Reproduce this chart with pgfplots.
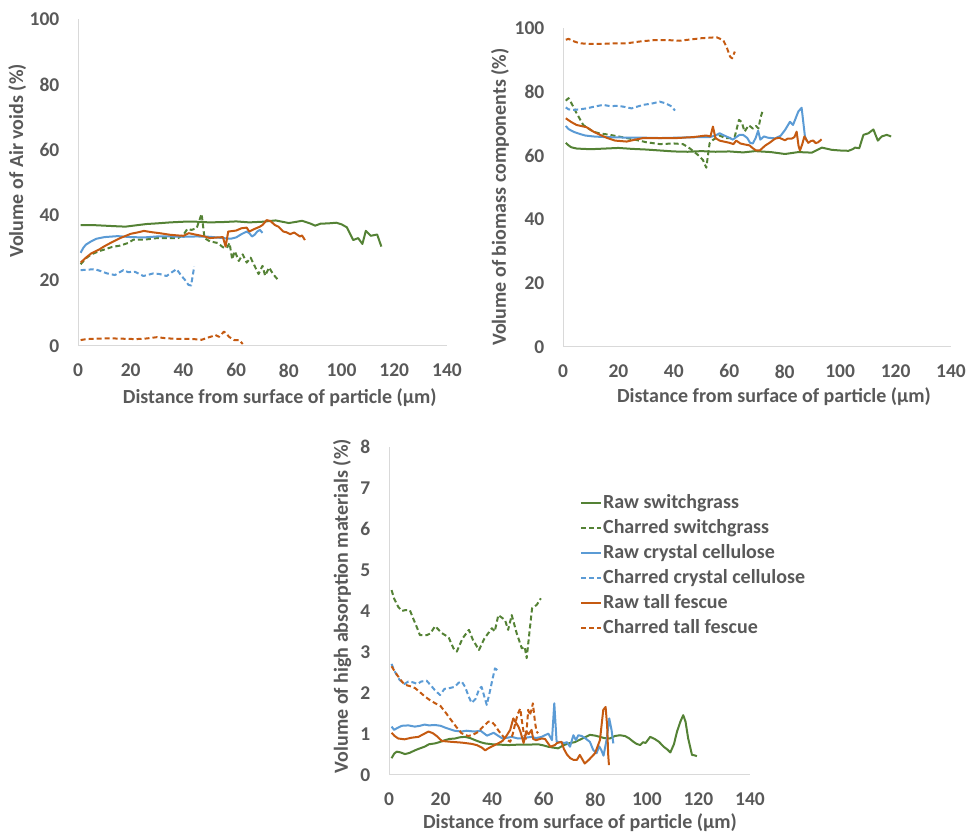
\documentclass[border=0pt]{standalone}
\usepackage{fontspec}
\setmainfont{Carlito}
\usepackage{pgfplots}
\pgfplotsset{compat=1.18}
\definecolor{cgreen}{HTML}{548235}
\definecolor{cblue}{HTML}{5B9BD5}
\definecolor{corange}{HTML}{C55A11}
\definecolor{ctext}{HTML}{595959}
\definecolor{caxis}{HTML}{D9D9D9}
\pgfplotsset{
  base/.style={
    scale only axis,
    xmin=0,xmax=140,
    xtick={0,20,...,140},
    axis lines=left,
    axis line style={-, draw=caxis, line width=1pt},
    tick style={draw=none},
    /pgf/number format/assume math mode=true,
    tick label style={font=\fontsize{19.5}{22}\selectfont\bfseries, text=ctext},
    label style={font=\fontsize{20}{24}\selectfont\bfseries, text=ctext},
    xticklabel style={yshift=-12pt},
    yticklabel style={xshift=-13pt},
    every axis plot/.append style={line width=2pt, line join=round},
  },
  rs/.style={cgreen, solid, line width=2pt},
  cs/.style={cgreen, dash pattern=on 5pt off 3pt, line width=2pt},
  rc/.style={cblue, solid, line width=2pt},
  cc/.style={cblue, dash pattern=on 5pt off 3pt, line width=2pt},
  rt/.style={corange, solid, line width=2pt},
  ct/.style={corange, dash pattern=on 5pt off 3pt, line width=2pt},
}
\begin{document}
\begin{tikzpicture}[x=1pt,y=1pt]
\path[use as bounding box] (0,0) rectangle (970,836);
% ---------- Air voids ----------
\begin{axis}[base, at={(78pt,490pt)}, anchor=south west, width=369pt, height=327pt,
  ymin=0, ymax=100, ytick={0,20,...,100},
  xlabel={Distance from surface of particle (µm)},
  ylabel={Volume of Air voids (\%)},
  xlabel style={at={(axis description cs:0.547,-0.159)}, anchor=center},
  ylabel style={at={(axis description cs:-0.165,0.566)}, anchor=center}]
\addplot[rs] coordinates {(1,37)(5,37)(10,36.8)(15,36.6)(18,36.5)(22,36.9)(26,37.3)(30,37.5)(35,37.8)(40,38)(45,38)(50,37.8)(55,37.9)(60,38.1)(65,37.8)(70,38)(75,38.4)(80,37.6)(83,38)(85,38.3)(88,37.5)(90,36.8)(92,37.4)(95,37.5)(98,37.7)(100,37.2)(102,36.3)(104.4,32.4)(106.3,33)(107.9,31.2)(109.2,35.2)(111.1,33.7)(113.5,34.1)(115.1,30.4)};
\addplot[cs] coordinates {(1,25)(3,26.8)(5,28)(8,29)(10,29.5)(13,30.3)(16,30.7)(19,31.5)(21,32.5)(25,32.5)(30,33)(35,33)(38,33)(40,34)(41.5,35.8)(43,35.5)(45,36)(46.9,40.4)(48,33)(50,32)(53,31.5)(55,30.2)(56.5,30)(57.5,31.5)(58.5,26.5)(59.5,29)(61,26)(62.5,28)(64,25.5)(65.5,27)(67,24.5)(68.5,22)(70,24.5)(71,21.5)(72.5,24)(74,22)(75.7,20.4)};
\addplot[rc] coordinates {(1,28.5)(2,30)(3,31)(5,32)(7,32.8)(10,33.3)(15,33.6)(20,33.3)(25,33.2)(30,33.5)(35,33.5)(40,33.4)(45,33.5)(50,33.4)(55,33)(58,32.8)(60,33.2)(62,34.2)(64,35)(65,34.5)(66,33.5)(67,34)(68,35)(69,35.5)(70,34.6)};
\addplot[cc] coordinates {(1,23.2)(3,23.3)(6.4,23.5)(9,22.8)(11,22.2)(14,21.7)(17.2,23.2)(19,22.6)(21.6,22.7)(24.8,21.4)(28.6,22.2)(31,22)(33.6,21.4)(35.5,22.5)(37.4,23.5)(39.3,21.4)(40.6,20.2)(41.9,18.7)(42.9,18.5)(44.1,24.3)};
\addplot[rt] coordinates {(1,25.5)(3,27)(5,28.3)(8,29.5)(10,30.5)(13,31.8)(16,33)(20,34.3)(23,34.8)(25,35.2)(28,34.8)(31,34.5)(35,34)(38,33.8)(40,33.7)(42,34.5)(45,34)(48,33.5)(50,33)(53,33.2)(55,33.3)(56,30.4)(57,35)(60,35.3)(62,36)(64,36.2)(65,35)(67,35.8)(69,36.5)(70,37)(71.6,38.5)(73,38.2)(74.7,37)(76,36.5)(77.9,35)(79,34.8)(80.5,34.2)(82,34.7)(84.2,33.5)(85,33.8)(86.1,32.4)};
\addplot[ct] coordinates {(1,1.8)(3,2.1)(6,2.2)(10,2.3)(14,2.3)(18,2.2)(22,2.1)(26,2.3)(30,2.7)(33,2.4)(36.7,2.2)(40,2.2)(44,2.1)(46.9,1.9)(49.4,2.6)(51,3)(52,3.4)(53.5,2.8)(55.4,4.4)(56.5,3.6)(57.3,2.8)(58.5,2.2)(59.3,1.8)(61.2,1.8)(62.5,0.6)};
\end{axis}
% ---------- Biomass components ----------
\begin{axis}[base, at={(563pt,489pt)}, anchor=south west, width=388pt, height=319pt,
  ymin=0, ymax=100, ytick={0,20,...,100},
  xlabel={Distance from surface of particle (µm)},
  ylabel={Volume of biomass components (\%)},
  xlabel style={at={(axis description cs:0.544,-0.157)}, anchor=center},
  ylabel style={at={(axis description cs:-0.162,0.47)}, anchor=center}]
\addplot[rs] coordinates {(1,64)(2,63.2)(3,62.6)(5,62.2)(10,62)(15,62.2)(20,62.4)(25,62.1)(30,61.9)(35,61.6)(40,61.3)(45,61.2)(50,61.4)(55,61.2)(60,61.3)(65,61)(69.3,61.4)(75,61.1)(80.1,60.5)(84.9,61.1)(88,61)(89.7,60.9)(93.4,62.5)(97,61.8)(100,61.6)(103,61.5)(104.5,62)(105.4,62.5)(106.9,62.3)(108.4,66.5)(110.2,67)(112,68.2)(113.6,64.7)(115,66)(116.8,66.5)(118.4,66)};
\addplot[cs] coordinates {(1,77.2)(2,78)(3,76.5)(4.9,73.3)(7.3,69.6)(10.9,67.5)(13,67)(16.9,66.5)(20,66)(23,65.5)(26.5,64.9)(30,64.2)(34.9,63.6)(40,63.8)(43.3,63.6)(45.7,62.3)(48.7,60.2)(50.5,58.6)(51.7,56.2)(52.9,63.9)(54.1,64.9)(56.5,66.3)(58.5,65.5)(60.5,65.5)(62,66)(63.5,71.2)(64.5,70.5)(65.5,67.5)(67,69.5)(68.5,68.5)(69.6,69.3)(70.5,68.5)(71.3,72)(72.2,74.5)};
\addplot[rc] coordinates {(1,69.3)(2,68.3)(4,67.4)(6,66.8)(8,66.3)(10.9,66)(15,65.8)(20,65.7)(25,65.6)(30,65.6)(35,65.5)(40,65.6)(45,65.7)(50,65.8)(53,65.8)(55,66.3)(56.5,67)(58.9,66)(60,65.6)(61.3,65)(62.5,65.8)(63.7,66.5)(65,66.5)(66.5,65.5)(67.5,64)(68.5,63.8)(69.5,65.5)(70.4,67.8)(71.2,65)(72.5,66)(74,65.6)(76.5,65.4)(78.5,66.2)(80.1,68)(81.9,70.6)(83,69.6)(84.9,73.8)(86.1,75)(87.3,66)(88,64.5)};
\addplot[cc] coordinates {(1,75.1)(2,74.5)(3.7,74.3)(6,74.5)(8.5,74.8)(11,75.3)(14.5,75.9)(17,75.5)(19.9,75.6)(22,75.3)(24.7,74.8)(27,75.4)(28.9,75.9)(32,76.3)(34.9,76.9)(37,76.4)(39.2,75.4)(40.4,74.1)};
\addplot[rt] coordinates {(1,71.7)(3,70.5)(4.9,69.6)(8.5,68.9)(11,67.5)(13.4,66.5)(16,65.5)(18.8,64.7)(23,64.4)(26,65)(29,65.5)(35,65.5)(41,65.5)(47,65.8)(51.7,66.3)(53.2,66)(54.1,69.1)(55,65.5)(56.5,64.7)(58,64.4)(60.1,64)(61.5,63.6)(62.5,64.7)(64,63.8)(65.5,63.5)(67.3,63.2)(68.5,62.3)(69.7,61.6)(71,61.6)(72.9,63.1)(74.5,64)(76.5,65.3)(78,65.6)(80.1,64.8)(81,65.3)(82.5,65.3)(83.5,65.8)(84.3,67.5)(85,63)(85.5,61.6)(86.3,63.5)(87.1,66)(88.5,64)(89.5,64.6)(90.3,64.7)(91.2,63.9)(92.1,64.2)(93.3,65.1)};
\addplot[ct] coordinates {(1,96.3)(2,96.6)(4,95.8)(6,95.2)(10,95)(14,95)(18,95.2)(23,95.2)(28,95.8)(33,96.2)(38,96.2)(42,96)(46,96.4)(50,96.8)(55.4,97.1)(57.8,96.2)(59,94.1)(60.3,91)(61,90.5)(62,92.6)};
\end{axis}
% ---------- High absorption materials ----------
\begin{axis}[base, at={(389pt,61pt)}, anchor=south west, width=361pt, height=328pt,
  ymin=0, ymax=8, ytick={0,1,...,8},
  xlabel={Distance from surface of particle (µm)},
  ylabel={Volume of high absorption materials (\%)},
  xlabel style={at={(axis description cs:0.529,-0.146)}, anchor=center},
  ylabel style={at={(axis description cs:-0.130,0.515)}, anchor=center},
  legend cell align=left,
  legend image code/.code={\draw[#1] (0pt,0pt) -- (20pt,0pt);},
  legend style={at={(axis description cs:0.529,0.857)}, anchor=north west,
    draw=none, fill=none, inner sep=0pt, row sep=7pt,
    font=\fontsize{20}{24}\selectfont\bfseries, text=ctext,
    nodes={inner xsep=1pt, inner ysep=0pt, text height=14pt, text depth=4pt},
    /tikz/every even column/.append style={column sep=0pt}}]
\addplot[rs] coordinates {(1,0.41)(2,0.52)(3,0.57)(4.5,0.55)(6.2,0.51)(8,0.54)(10,0.6)(12,0.65)(13.8,0.69)(15.5,0.75)(17.8,0.77)(19.5,0.8)(21.7,0.85)(23.5,0.88)(25.6,0.89)(27.5,0.92)(29.5,0.93)(31.5,0.9)(33.4,0.85)(35.5,0.8)(37.3,0.77)(40,0.75)(43,0.74)(46.4,0.73)(50,0.74)(54,0.74)(57.8,0.75)(60,0.72)(61.7,0.69)(63.5,0.67)(65.6,0.65)(67.5,0.72)(69.5,0.77)(72,0.8)(74,0.86)(76,0.92)(77.9,0.98)(80,0.96)(81.8,0.93)(83.5,0.9)(85.7,0.89)(87.5,0.95)(89.6,0.97)(91.5,0.95)(93,0.9)(94.8,0.81)(96,0.76)(97.4,0.73)(98.5,0.8)(99.5,0.78)(101.3,0.93)(103,0.88)(104.7,0.81)(106.5,0.69)(108,0.62)(109.1,0.55)(110.5,0.75)(111.7,1.06)(113,1.3)(114.1,1.46)(115,1.3)(116,0.9)(117.5,0.49)(118.5,0.48)(119.4,0.46)};
\addlegendentry{Raw switchgrass}
\addplot[cs] coordinates {(1,4.51)(2,4.3)(3.6,4.1)(5,4.0)(6.2,4.02)(8.1,4.02)(9.5,3.8)(10.7,3.62)(12,3.41)(14.6,3.41)(16,3.45)(17.9,3.63)(20.5,3.46)(23.1,3.36)(25,3.09)(26.3,3.01)(28.5,3.33)(31,3.54)(32.5,3.3)(34.9,3.05)(37,3.33)(39.9,3.58)(41,3.5)(42.4,3.9)(45,3.78)(46.2,3.54)(47.6,3.9)(49.5,3.46)(51.5,3.09)(52.6,3.13)(53.4,2.85)(54.7,3.62)(55.5,4.07)(57.3,4.15)(58.9,4.31)};
\addlegendentry{Charred switchgrass}
\addplot[rc] coordinates {(1,1.18)(2,1.1)(3,1.14)(5,1.2)(7.5,1.21)(10,1.18)(12,1.2)(13.8,1.23)(15.5,1.21)(17.8,1.22)(20,1.2)(22,1.15)(25.4,1.08)(28,1.06)(30,1.08)(33.2,1.06)(35.5,1.08)(38,0.96)(40.6,1.03)(42.5,0.95)(44,0.89)(46,0.91)(47.6,0.93)(50,0.89)(52,0.9)(55.3,0.93)(57,0.9)(59.2,0.93)(61.8,1.01)(63.2,0.85)(64.1,1.75)(65,0.81)(66.5,0.8)(68,0.78)(69,0.8)(70.2,0.69)(71.5,0.97)(72.5,0.85)(73.4,0.97)(74.8,0.95)(76,0.9)(77.9,0.81)(79.2,0.61)(80.5,0.53)(81.5,0.7)(82.4,0.6)(83.2,0.47)(84.5,0.9)(85.4,1.38)(86.3,1.1)(87,0.77)};
\addlegendentry{Raw crystal cellulose}
\addplot[cc] coordinates {(1,2.71)(2,2.55)(4.1,2.32)(6,2.22)(7.5,2.28)(9.3,2.26)(11,2.22)(12.5,2.28)(14.6,2.3)(16,2.2)(17.8,2.07)(19.8,1.95)(21.5,2.1)(23.5,2.12)(25.5,2.15)(27,2.25)(28.2,2.28)(29.5,2.15)(31,1.9)(32,1.76)(33.5,1.85)(35,2.1)(35.9,2.15)(36.8,1.95)(37.9,1.71)(39,2.0)(40,2.3)(41.1,2.6)(42,2.56)};
\addlegendentry{Charred crystal cellulose}
\addplot[rt] coordinates {(1,1.03)(2.2,0.95)(3.6,0.89)(6,0.87)(8.8,0.91)(11.4,0.93)(13.5,1.0)(15.3,1.06)(17,1.02)(18.5,0.95)(20.5,0.83)(24,0.81)(28.2,0.79)(32,0.76)(34,0.73)(36,0.67)(37.3,0.6)(38.5,0.65)(40,0.7)(42,0.76)(44,0.83)(45.5,0.95)(47,1.1)(48.2,1.38)(49,1.3)(50.2,1.18)(51,1.05)(52.2,0.78)(53.2,1.06)(54.2,1.0)(55.3,1.1)(55.9,0.88)(57,0.85)(59.2,0.89)(60.5,0.88)(62.6,0.69)(64.3,0.73)(65.2,0.78)(66.9,0.81)(67.8,0.64)(69,0.5)(70.3,0.41)(71.5,0.37)(72.9,0.37)(74,0.49)(75.9,0.28)(77.5,0.37)(79.9,0.53)(81.8,0.85)(83.1,1.59)(84,1.66)(84.6,1.2)(85,0.5)(85.3,0.24)};
\addlegendentry{Raw tall fescue}
\addplot[ct] coordinates {(1,2.65)(2.5,2.5)(3.6,2.4)(5,2.28)(6.2,2.2)(8,2.17)(10.1,2.12)(12,2.02)(14,1.91)(16,1.82)(17.9,1.75)(20,1.68)(22,1.52)(24.1,1.34)(26,1.18)(28.1,1.02)(30.7,0.95)(32.5,0.98)(34.6,1.05)(36,1.15)(37.2,1.22)(38.5,1.3)(39.8,1.3)(41,1.22)(42.5,1.08)(44.4,0.93)(46,0.85)(47,0.81)(48,1.0)(49,1.27)(50,1.5)(50.9,1.62)(51.5,1.34)(52.3,1.0)(53.1,0.88)(54,1.59)(54.6,1.46)(55.3,1.6)(55.8,1.75)(56.6,1.3)(57.2,1.06)(57.8,1.02)};
\addlegendentry{Charred tall fescue}
\end{axis}
\end{tikzpicture}
\end{document}
